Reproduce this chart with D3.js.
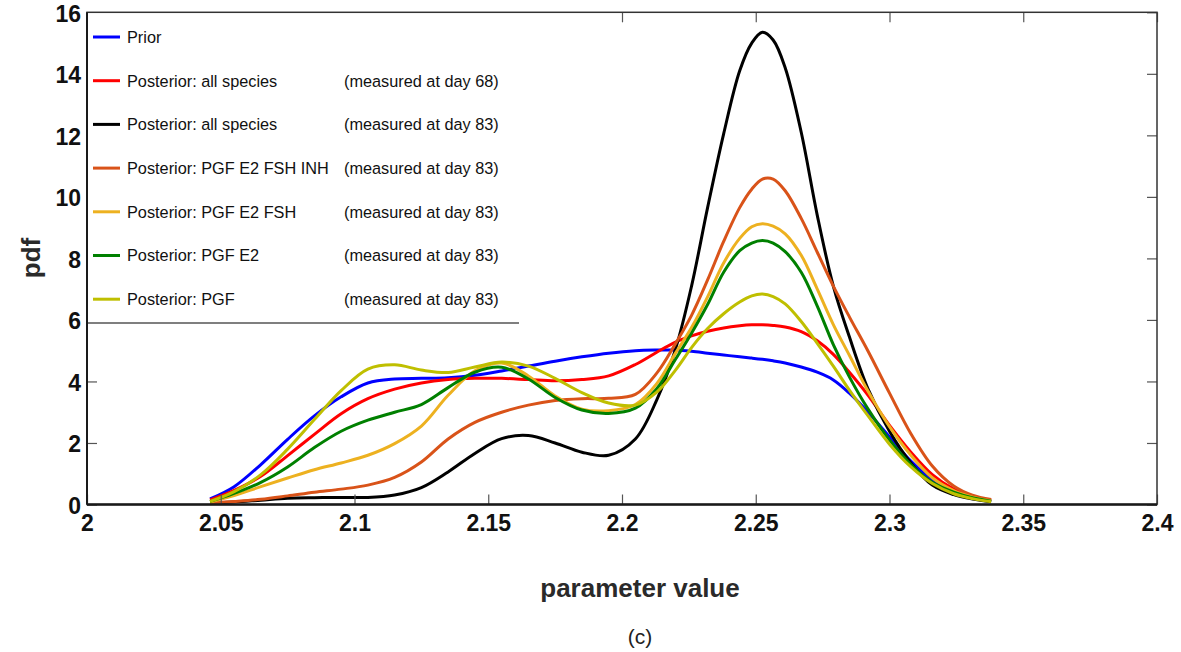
<!DOCTYPE html>
<html>
<head>
<meta charset="utf-8">
<script src="https://cdn.jsdelivr.net/npm/d3@7"></script>
<style>
  html, body { margin: 0; padding: 0; background: #fff; }
  svg { display: block; }
  text { font-family: "Liberation Sans", Arial, Helvetica, sans-serif; }
</style>
</head>
<body>
<svg id="chart" width="1181" height="652"></svg>
<script>
// Evaluation grid of the kernel density estimates (parameter value)
const xGrid = [2.046, 2.055, 2.065, 2.075, 2.085, 2.095, 2.105, 2.115, 2.125, 2.135,
  2.145, 2.155, 2.165, 2.175, 2.185, 2.195, 2.205, 2.213, 2.220, 2.226,
  2.232, 2.238, 2.244, 2.2485, 2.2525, 2.2565, 2.261, 2.267, 2.273, 2.279,
  2.285, 2.292, 2.300, 2.308, 2.316, 2.324, 2.331, 2.338];

// pdf values of each distribution on xGrid
const prior = [0.18, 0.58, 1.3, 2.12, 2.88, 3.5, 3.95, 4.08, 4.1, 4.12,
  4.2, 4.34, 4.5, 4.66, 4.8, 4.92, 5.0, 5.02, 5.02, 4.98,
  4.92, 4.86, 4.8, 4.76, 4.72, 4.67, 4.6, 4.47, 4.3, 4.05,
  3.62, 3.0, 2.2, 1.41, 0.79, 0.4, 0.2, 0.11];
const postAllDay68 = [0.15, 0.46, 0.92, 1.59, 2.28, 2.95, 3.44, 3.75, 3.95, 4.06,
  4.1, 4.1, 4.06, 4.02, 4.06, 4.18, 4.55, 4.95, 5.28, 5.48,
  5.63, 5.74, 5.81, 5.84, 5.84, 5.82, 5.77, 5.62, 5.32, 4.88,
  4.3, 3.55, 2.57, 1.7, 0.97, 0.5, 0.25, 0.14];
const postAllDay83 = [0.05, 0.08, 0.14, 0.2, 0.22, 0.23, 0.23, 0.31, 0.55, 1.06,
  1.66, 2.14, 2.24, 2.0, 1.7, 1.6, 2.13, 3.4, 5.05, 7.1,
  9.65, 12.05, 14.1, 15.0, 15.35, 15.1, 14.2, 12.1, 9.4, 7.1,
  5.45, 3.75, 2.38, 1.35, 0.63, 0.32, 0.18, 0.09];
const postPgfE2FshInh = [0.05, 0.1, 0.17, 0.28, 0.4, 0.5, 0.63, 0.88, 1.38, 2.13,
  2.67, 3.0, 3.23, 3.38, 3.44, 3.45, 3.58, 4.27, 5.23, 6.15,
  7.3, 8.55, 9.65, 10.25, 10.58, 10.58, 10.2, 9.3, 8.2, 7.1,
  6.1, 4.98, 3.62, 2.3, 1.25, 0.6, 0.3, 0.16];
const postPgfE2Fsh = [0.08, 0.29, 0.58, 0.86, 1.13, 1.35, 1.6, 1.98, 2.55, 3.55,
  4.35, 4.6, 4.18, 3.53, 3.1, 3.05, 3.25, 3.93, 4.92, 5.75,
  6.75, 7.85, 8.65, 9.03, 9.13, 9.05, 8.8, 8.1, 7.0, 5.85,
  4.85, 3.68, 2.53, 1.6, 0.87, 0.45, 0.24, 0.12];
const postPgfE2 = [0.1, 0.36, 0.72, 1.22, 1.85, 2.38, 2.74, 3.0, 3.25, 3.8,
  4.3, 4.46, 4.08, 3.48, 3.07, 2.96, 3.13, 3.76, 4.72, 5.57,
  6.5, 7.55, 8.25, 8.5, 8.58, 8.5, 8.22, 7.55, 6.45, 5.2,
  4.15, 3.1, 2.1, 1.3, 0.72, 0.4, 0.22, 0.11];
const postPgf = [0.1, 0.42, 0.97, 1.8, 2.76, 3.7, 4.4, 4.54, 4.37, 4.29,
  4.47, 4.63, 4.5, 4.1, 3.64, 3.3, 3.23, 3.65, 4.37, 5.1,
  5.72, 6.2, 6.58, 6.78, 6.84, 6.76, 6.52, 5.95, 5.24, 4.5,
  3.72, 2.88, 1.96, 1.22, 0.68, 0.35, 0.19, 0.09];

// Legend entries, in drawing order
const seriesNames = [
  "Prior",
  "Posterior: all species",
  "Posterior: all species",
  "Posterior: PGF E2 FSH INH",
  "Posterior: PGF E2 FSH",
  "Posterior: PGF E2",
  "Posterior: PGF"
];
const seriesNotes = [
  "",
  "(measured at day 68)",
  "(measured at day 83)",
  "(measured at day 83)",
  "(measured at day 83)",
  "(measured at day 83)",
  "(measured at day 83)"
];
const seriesValues = [prior, postAllDay68, postAllDay83, postPgfE2FshInh, postPgfE2Fsh, postPgfE2, postPgf];
const seriesColors = ["#0000ff", "#ff0000", "#000000", "#d95319", "#edb120", "#008000", "#bfbf00"];

// Axis ticks
const xTicks = [2, 2.05, 2.1, 2.15, 2.2, 2.25, 2.3, 2.35, 2.4];
const xTickLabels = ["2", "2.05", "2.1", "2.15", "2.2", "2.25", "2.3", "2.35", "2.4"];
const yTicks = [0, 2, 4, 6, 8, 10, 12, 14, 16];
const yTickLabels = ["0", "2", "4", "6", "8", "10", "12", "14", "16"];

const svg = d3.select("#chart");
const plot = { left: 87, right: 1157, top: 12.3, bottom: 504.5 };

const x = d3.scaleLinear().domain([2, 2.4]).range([plot.left, plot.right]);
const y = d3.scaleLinear().domain([0, 16]).range([plot.bottom, plot.top]);

// Inward tick marks on all four sides
const tickColor = "#555";
function styleAxis(g) {
  g.select(".domain").remove();
  g.selectAll(".tick line").attr("stroke", tickColor).attr("stroke-width", 1.2);
}
svg.append("g")
  .attr("transform", `translate(0,${plot.top})`)
  .call(d3.axisTop(x).tickValues(xTicks).tickSize(-10).tickFormat(""))
  .call(styleAxis);
svg.append("g")
  .attr("transform", `translate(${plot.right},0)`)
  .call(d3.axisRight(y).tickValues(yTicks).tickSize(-10).tickFormat(""))
  .call(styleAxis);

// Density curves
const line = d3.line()
  .x((d, i) => x(xGrid[i]))
  .y(d => y(d))
  .curve(d3.curveCatmullRom.alpha(0.5));

svg.append("g")
  .selectAll("path")
  .data(seriesValues)
  .join("path")
  .attr("d", d => line(d))
  .attr("fill", "none")
  .attr("stroke", (d, i) => seriesColors[i])
  .attr("stroke-width", 3)
  .attr("stroke-linejoin", "round");

// Legend box (covers the upper-left corner of the axes)
const legend = { left: plot.left, top: plot.top, right: 519, bottom: 323, row0: 37, rowStep: 43.7 };
svg.append("rect")
  .attr("x", legend.left).attr("y", legend.top)
  .attr("width", legend.right - legend.left).attr("height", legend.bottom - legend.top)
  .attr("fill", "#fff");
svg.append("line")
  .attr("x1", legend.left).attr("x2", legend.right)
  .attr("y1", legend.bottom).attr("y2", legend.bottom)
  .attr("stroke", "#555").attr("stroke-width", 1.3);

const rows = svg.append("g").selectAll("g")
  .data(seriesNames)
  .join("g")
  .attr("transform", (d, i) => `translate(0,${legend.row0 + i * legend.rowStep})`);
rows.append("line")
  .attr("x1", 93).attr("x2", 120)
  .attr("stroke", (d, i) => seriesColors[i])
  .attr("stroke-width", 3);
rows.append("text")
  .attr("x", 127).attr("dy", "0.36em")
  .attr("font-size", "16.3px").attr("fill", "#111")
  .text(d => d);
rows.append("text")
  .attr("x", 344).attr("dy", "0.36em")
  .attr("font-size", "16.3px").attr("fill", "#111")
  .text((d, i) => seriesNotes[i]);

// Bottom and left axes with labels
svg.append("g")
  .attr("transform", `translate(0,${plot.bottom})`)
  .call(d3.axisBottom(x).tickValues(xTicks).tickSize(-10).tickSizeOuter(0).tickPadding(10)
    .tickFormat((d, i) => xTickLabels[i]))
  .call(g => {
    g.select(".domain").remove();
    g.selectAll(".tick line").attr("stroke", tickColor).attr("stroke-width", 1.2);
    g.selectAll(".tick text").attr("font-size", "23px").attr("font-weight", "bold")
      .attr("fill", "#111").attr("font-family", "'Liberation Sans', Arial, sans-serif");
  });
svg.append("g")
  .attr("transform", `translate(${plot.left},0)`)
  .call(d3.axisLeft(y).tickValues(yTicks).tickSize(-10).tickSizeOuter(0).tickPadding(6)
    .tickFormat((d, i) => yTickLabels[i]))
  .call(g => {
    g.select(".domain").remove();
    g.selectAll(".tick line").attr("stroke", tickColor).attr("stroke-width", 1.2)
      .attr("display", d => y(d) < legend.bottom ? "none" : null);
    g.selectAll(".tick text").attr("font-size", "23px").attr("font-weight", "bold")
      .attr("fill", "#111").attr("dy", "0.38em")
      .attr("font-family", "'Liberation Sans', Arial, sans-serif");
  });

// Axes frame
svg.append("rect")
  .attr("x", plot.left).attr("y", plot.top)
  .attr("width", plot.right - plot.left).attr("height", plot.bottom - plot.top)
  .attr("fill", "none").attr("stroke", "#333").attr("stroke-width", 1.5);
svg.append("line")
  .attr("x1", plot.left).attr("x2", plot.right)
  .attr("y1", plot.bottom).attr("y2", plot.bottom)
  .attr("stroke", "#1a1a1a").attr("stroke-width", 2.5);
svg.append("line")
  .attr("x1", plot.left).attr("x2", plot.left)
  .attr("y1", plot.top).attr("y2", plot.bottom)
  .attr("stroke", "#1a1a1a").attr("stroke-width", 2);

// Axis titles and panel caption
svg.append("text")
  .attr("x", 640).attr("y", 597)
  .attr("text-anchor", "middle")
  .attr("font-size", "26px").attr("font-weight", "bold").attr("fill", "#2a2a2a")
  .text("parameter value");
svg.append("text")
  .attr("transform", "translate(40,258) rotate(-90)")
  .attr("text-anchor", "middle")
  .attr("font-size", "26px").attr("font-weight", "bold").attr("fill", "#2a2a2a")
  .text("pdf");
svg.append("text")
  .attr("x", 640).attr("y", 644)
  .attr("text-anchor", "middle")
  .attr("font-size", "21px").attr("fill", "#222")
  .attr("font-family", "'Liberation Serif', 'DejaVu Serif', serif")
  .text("(c)");
</script>
</body>
</html>
